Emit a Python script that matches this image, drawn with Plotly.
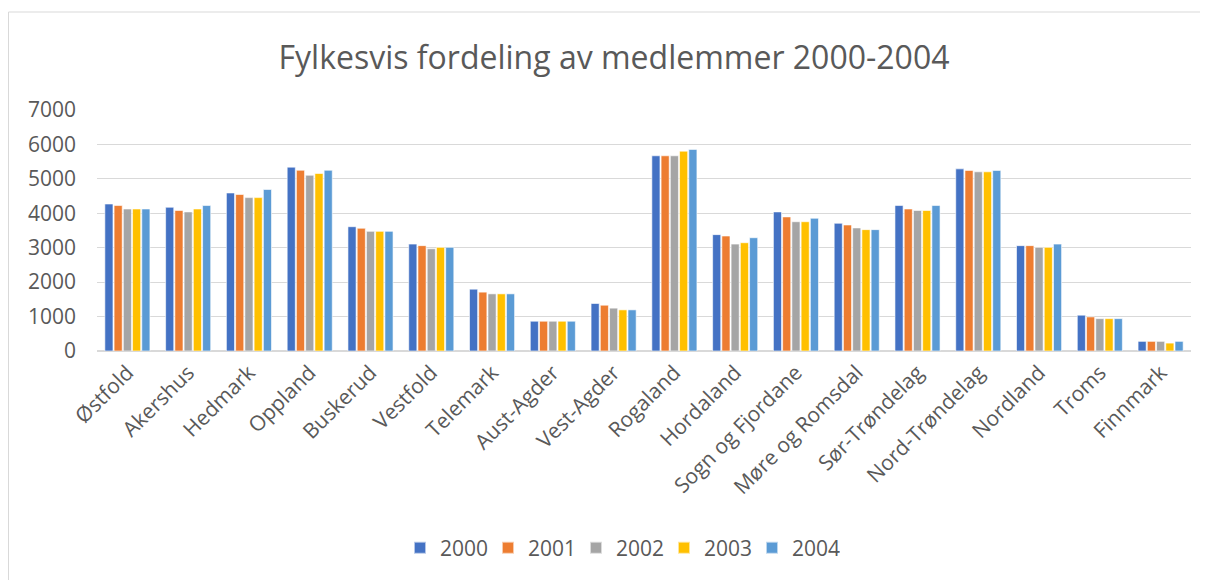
import plotly.graph_objects as go

fylker = ["Østfold", "Akershus", "Hedmark", "Oppland", "Buskerud", "Vestfold", "Telemark",
          "Aust-Agder", "Vest-Agder", "Rogaland", "Hordaland", "Sogn og Fjordane",
          "Møre og Romsdal", "Sør-Trøndelag", "Nord-Trøndelag", "Nordland", "Troms", "Finnmark"]

years = ["2000", "2001", "2002", "2003", "2004"]

v2000 = [4270, 4175, 4590, 5340, 3610, 3105, 1795, 865, 1380, 5670, 3380, 4040, 3710, 4225, 5290, 3060, 1040, 280]
v2001 = [4225, 4080, 4545, 5250, 3565, 3060, 1710, 865, 1330, 5670, 3340, 3895, 3660, 4125, 5245, 3060, 990, 280]
v2002 = [4125, 4040, 4455, 5105, 3475, 2970, 1660, 865, 1245, 5670, 3105, 3755, 3575, 4080, 5205, 3010, 940, 280]
v2003 = [4125, 4125, 4455, 5155, 3475, 3010, 1660, 865, 1195, 5805, 3145, 3755, 3525, 4080, 5205, 3010, 940, 230]
v2004 = [4125, 4225, 4690, 5250, 3475, 3010, 1660, 865, 1195, 5855, 3290, 3855, 3525, 4225, 5245, 3105, 940, 280]

series = [v2000, v2001, v2002, v2003, v2004]
colors = ["#4472C4", "#ED7D31", "#A5A5A5", "#FFC000", "#5B9BD5"]

FONT = "Open Sans"
GREY = "#595959"

W, H = 1200, 572
L, R, T, B = 89, 17, 102, 229
PW, PH = W - L - R, H - T - B

fig = go.Figure()
for name, vals, col in zip(years, series, colors):
    fig.add_trace(go.Bar(
        x=fylker, y=vals, name=name,
        marker=dict(color=col, line=dict(color="rgba(255,255,255,0.6)", width=1)),
    ))

fig.update_layout(
    width=W, height=H,
    margin=dict(l=L, r=R, t=T, b=B),
    paper_bgcolor="white", plot_bgcolor="white",
    barmode="group", bargap=0.24, bargroupgap=0.12,
    title=dict(text="Fylkesvis fordeling av medlemmer 2000-2004",
               x=606 / W, xref="container", xanchor="center",
               y=1 - 50 / H, yref="container", yanchor="middle",
               font=dict(family=FONT, size=32, color=GREY)),
    font=dict(family=FONT, color=GREY),
    showlegend=True,
    legend=dict(orientation="h", x=(612 - L) / PW, xanchor="center",
                y=(H - B - 540) / PH, yanchor="middle",
                font=dict(family=FONT, size=21, color=GREY),
                itemsizing="constant", traceorder="normal",
                entrywidth=43, itemwidth=30),
    xaxis=dict(tickangle=-45, tickfont=dict(family=FONT, size=21, color=GREY),
               showgrid=False, showline=True, linecolor="#D9D9D9", linewidth=1,
               ticks="", automargin=False),
    yaxis=dict(range=[0, 7000], dtick=1000, tickfont=dict(family=FONT, size=21, color=GREY),
               showgrid=True, gridcolor="#D9D9D9", gridwidth=1, zeroline=True,
               zerolinecolor="#D9D9D9", showline=False, ticks="", ticklen=0,
               ticklabelstandoff=20, automargin=False),
)

# outer chart border
fig.add_shape(type="rect", xref="paper", yref="paper",
              x0=(0.5 - L) / PW, x1=(1196 - L) / PW,
              y0=(H - B - 600) / PH, y1=(H - B - 4) / PH,
              line=dict(color="#D9D9D9", width=1), fillcolor="rgba(0,0,0,0)", layer="below")

fig.write_html("out.html")
